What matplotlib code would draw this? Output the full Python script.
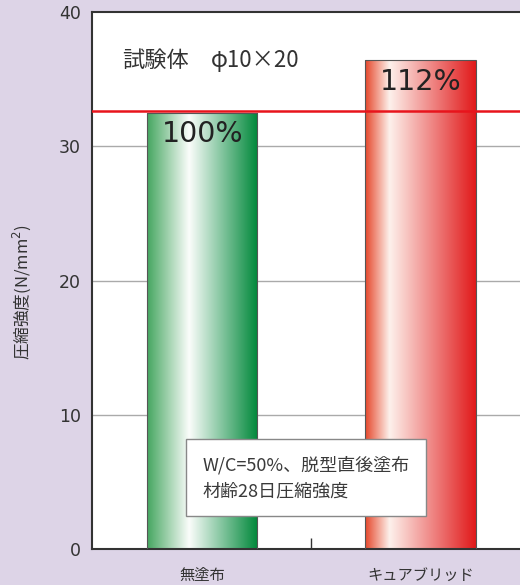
import numpy as np
import matplotlib
matplotlib.use("Agg")
import matplotlib.pyplot as plt
from matplotlib.colors import LinearSegmentedColormap

plt.rcParams['font.family'] = ['Noto Sans CJK JP', 'DejaVu Sans']

# ============================================
# DATA
# ============================================
categories = ['無塗布', 'キュアブリッド']
strength = [32.5, 36.4]
ratio_labels = ['100%', '112%']
reference_level = 32.6
y_ticks = [0, 10, 20, 30, 40]

bg = '#ddd4e7'

# gradient colormaps (left -> white -> right)
green_cmap = LinearSegmentedColormap.from_list(
    'g', [(0.0, '#45a660'), (0.38, '#fbfdfb'), (1.0, '#00883a')])
red_cmap = LinearSegmentedColormap.from_list(
    'r', [(0.0, '#e5462a'), (0.22, '#fdf1ec'), (1.0, '#e1191a')])
cmaps = [green_cmap, red_cmap]

# ============================================
# PLOT
# ============================================
fig = plt.figure(figsize=(5.2, 5.85), dpi=100, facecolor=bg)
ax = fig.add_axes([92 / 520, 36 / 585, 440 / 520, 537 / 585])
ax.set_facecolor('white')

x = np.arange(len(categories))
width = 0.505
bars = ax.bar(x, strength, width=width, color='none',
              edgecolor='#555555', linewidth=0.8, zorder=3)

grad = np.linspace(0, 1, 256).reshape(1, -1)
for bar, cmap in zip(bars, cmaps):
    x0 = bar.get_x()
    im = ax.imshow(grad, cmap=cmap, aspect='auto', zorder=2,
                   extent=[x0, x0 + bar.get_width(), 0, bar.get_height()])
    im.set_clip_path(bar)

ax.set_xlim(-0.505, 1.51)
ax.set_ylim(0, 40)

# grid lines
for yv in y_ticks[1:-1]:
    ax.axhline(yv, color='#aaaaaa', linewidth=1.0, zorder=1)

# reference line
ax.axhline(reference_level, color='#e8141c', linewidth=1.8, zorder=4)

# percentage labels
for xi, h, lab in zip(x, strength, ratio_labels):
    ax.text(xi, h - 1.6, lab, ha='center', va='center', fontsize=20.5,
            color='#222222', family='DejaVu Sans', zorder=5)

ax.text(-0.365, 36.4, '試験体', fontsize=16, color='#333333',
        ha='left', va='center', zorder=5)
ax.text(0.04, 36.4, 'φ10×20', fontsize=16, color='#333333',
        ha='left', va='center', zorder=5)

# note box
ax.text(0.0, 5.3, 'W/C=50%、脱型直後塗布\n材齢28日圧縮強度', fontsize=13,
        color='#3a3a3a', ha='left', va='center', linespacing=1.55, zorder=6,
        bbox=dict(boxstyle='square,pad=0.9', facecolor='white',
                  edgecolor='#888888', linewidth=1.0))

# axes styling
ax.set_yticks(y_ticks)
ax.set_yticklabels([str(v) for v in y_ticks], fontsize=12.5, color='#333333',
                   family='DejaVu Sans')
ax.tick_params(axis='y', length=0, pad=8)

ax.set_xticks([0.5])
ax.set_xticklabels([''])
ax.tick_params(axis='x', direction='in', length=8, width=1.0, color='#333333')
for xi, cat in zip(x, categories):
    ax.text(xi, -1.3, cat, ha='center', va='top', fontsize=11,
            color='#333333')

for side in ['left', 'top', 'bottom']:
    ax.spines[side].set_linewidth(1.5)
    ax.spines[side].set_color('#333333')
ax.spines['right'].set_visible(False)

fig.text(22 / 520, 0.5, '圧縮強度(N/mm$^2$)', rotation=90, ha='center',
         va='center', fontsize=12, color='#333333')

fig.savefig('out.png', dpi=100, facecolor=bg)
